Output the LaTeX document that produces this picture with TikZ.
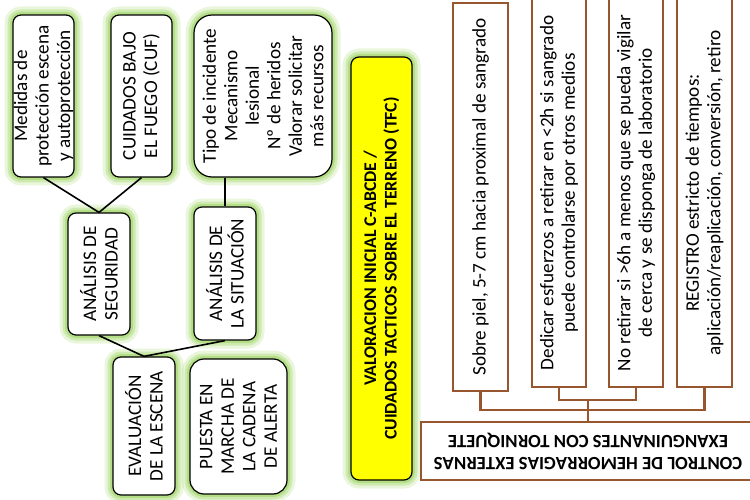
\documentclass[tikz,border=0pt]{standalone}
\usepackage{fontspec}
\setmainfont{Carlito}
\definecolor{glowc}{RGB}{146,208,80}
\definecolor{brownc}{RGB}{152,86,46}
\definecolor{hiyellow}{RGB}{255,255,0}
\begin{document}
\begin{tikzpicture}[x=1pt,y=-1pt,
  box/.style={draw=black, line width=1.2pt, fill=white, rounded corners=8pt, inner sep=0pt},
  glow/.style={
    preaction={draw=glowc, line width=17pt, draw opacity=0.2},
    preaction={draw=glowc, line width=11pt, draw opacity=0.3},
    preaction={draw=glowc, line width=6pt, draw opacity=0.45}},
  txt/.style={rotate=90, align=center, font=\fontsize{19.2}{21.5}\selectfont, inner sep=0pt},
  btxt/.style={rotate=90, align=center, font=\bfseries\fontsize{17.8}{20.5}\selectfont, inner sep=0pt},
  bbox/.style={draw=brownc, line width=1.2pt, fill=white, inner sep=0pt},
  link/.style={line width=1.6pt, draw=black},
  blink/.style={line width=2.2pt, draw=brownc},
]
\useasboundingbox (0,0) rectangle (750,500);

% --- scene evaluation tree (left) ---
\node[box, glow, minimum width=61pt, minimum height=162pt] (med) at (43.5,96) {};
\node[txt] at (med) {Medidas de\\protección escena\\y autoprotección};

\node[box, glow, minimum width=61pt, minimum height=162pt] (cuf) at (141.5,96) {};
\node[txt] at (cuf) {CUIDADOS BAJO\\EL FUEGO (CUF)};

\node[box, glow, rounded corners=18pt, minimum width=138pt, minimum height=162pt] (tipo) at (263,96) {};
\node[txt] at (tipo) {Tipo de incidente\\Mecanismo\\lesional\\Nº de heridos\\Valorar solicitar\\más recursos};

\node[box, glow, minimum width=62pt, minimum height=122pt] (seg) at (99,274) {};
\node[txt] at (seg) {ANÁLISIS DE\\SEGURIDAD};

\node[box, glow, minimum width=62pt, minimum height=133pt] (sit) at (225,273.5) {};
\node[txt] at (sit) {ANÁLISIS DE\\LA SITUACIÓN};

\node[box, glow, minimum width=62pt, minimum height=138pt] (eva) at (144,426) {};
\node[txt] at (eva) {EVALUACIÓN\\DE LA ESCENA};

\node[box, glow, rounded corners=14pt, minimum width=97pt, minimum height=135pt] (pue) at (238.5,426.5) {};
\node[txt] at (pue) {PUESTA EN\\MARCHA DE\\LA CADENA\\DE ALERTA};

\draw[link] (med.south) -- (seg.north);
\draw[link] (cuf.south) -- (seg.north);
\draw[link] (sit.north |- tipo.south) -- (sit.north);
\draw[link] (seg.south) -- (eva.north);
\draw[link] (sit.south) -- (eva.north);

% --- initial assessment banner ---
\node[box, glow, fill=hiyellow, minimum width=61pt, minimum height=423pt] (val) at (381.5,268.5) {};
\node[btxt] at (val) {VALORACION INICIAL C-ABCDE /\\CUIDADOS TACTICOS SOBRE EL TERRENO (TFC)};

% --- tourniquet branch (right) ---
\node[bbox, minimum width=55pt, minimum height=388pt] (ta) at (480.5,197) {};
\node[txt] at (ta) {Sobre piel, 5-7 cm hacia proximal de sangrado};

\node[bbox, minimum width=54pt, minimum height=388pt] (tb) at (559,193) {};
\node[txt] at (tb) {Dedicar esfuerzos a retirar en <2h si sangrado\\puede controlarse por otros medios};

\node[bbox, minimum width=54pt, minimum height=388pt] (tc) at (636,193) {};
\node[txt] at (tc) {No retirar si >6h a menos que se pueda vigilar\\de cerca y se disponga de laboratorio};

\node[bbox, minimum width=55pt, minimum height=388pt] (td) at (704.5,193) {};
\node[txt] at (td) {REGISTRO estricto de tiempos:\\aplicación/reaplicación, conversión, retiro};

\node[bbox, minimum width=334pt, minimum height=58pt] (ctl) at (588,451) {};
\node[rotate=180, align=center, font=\bfseries\fontsize{18.7}{22}\selectfont, inner sep=0pt] at (ctl) {CONTROL DE HEMORRAGIAS EXTERNAS\\EXANGUINANTES CON TORNIQUETE};

\coordinate (jb) at (588,399);
\draw[blink] (ta.south) -- ++(0,18) -| (td.south);
\draw[blink] (tb.south) -- ++(0,12) -| (tc.south);
\draw[blink] (ctl.north) -- (jb);
\end{tikzpicture}
\end{document}
